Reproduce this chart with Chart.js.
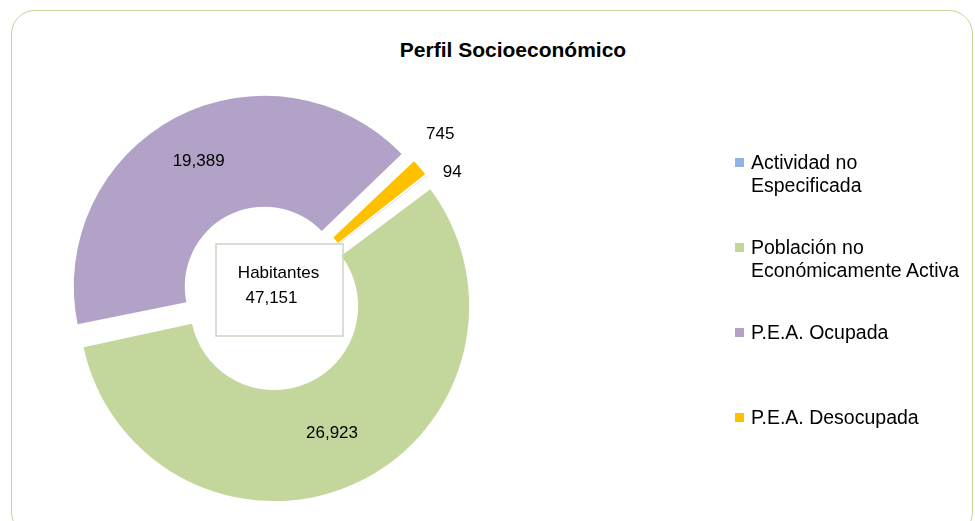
<!DOCTYPE html>
<html lang="es">
<head>
    <meta charset="UTF-8">
    <title>Perfil Socioeconómico</title>
    <script src="https://cdn.jsdelivr.net/npm/chart.js"></script>
    <style>
        body { margin: 0; font-family: "Liberation Sans", Arial, sans-serif; background: #fff; overflow: hidden; }
        .page { position: relative; width: 975px; height: 521px; overflow: hidden; }
        .frame { position: absolute; left: 11px; top: 10px; width: 960px; height: 524px;
                 border: 1.5px solid #c3d69b; border-radius: 24px; }
        .title { position: absolute; left: 0; width: 1026px; top: 38px; text-align: center;
                 font-weight: bold; font-size: 21px; color: #000; }
        .chart-box { position: absolute; left: 0; top: 0; width: 975px; height: 521px; }
        .legend-item { position: absolute; left: 735px; font-size: 19.5px; line-height: 23px; color: #000; }
        .legend-item .sw { position: absolute; left: 0; top: 7px; width: 9px; height: 9px; }
        .legend-item .txt { margin-left: 16px; white-space: nowrap; }
    </style>
</head>
<body>
<div class="page">
    <div class="frame"></div>
    <div class="title">Perfil Socioeconómico</div>
    <div class="chart-box"><canvas id="pieChart"></canvas></div>
    <div id="legend"></div>
</div>

<script>
    // data
    const categories = ['Actividad no Especificada', 'Población no Económicamente Activa', 'P.E.A. Ocupada', 'P.E.A. Desocupada'];
    const legendLines = [['Actividad no', 'Especificada'], ['Población no', 'Económicamente Activa'], ['P.E.A. Ocupada'], ['P.E.A. Desocupada']];
    const values = [94, 26923, 19389, 745];
    const colors = ['#8eb4e3', '#c3d69b', '#b3a2c7', '#ffc000'];
    const centerTitle = 'Habitantes';

    const total = values.reduce((a, b) => a + b, 0);
    const fmt = n => n.toLocaleString('en-US');

    // legend (html)
    const legendTops = [151, 236, 321, 406];
    const legendEl = document.getElementById('legend');
    legendLines.forEach((lines, i) => {
        const item = document.createElement('div');
        item.className = 'legend-item';
        item.style.top = legendTops[i] + 'px';
        item.innerHTML = '<span class="sw" style="background:' + colors[i] + '"></span><div class="txt">' + lines.join('<br>') + '</div>';
        legendEl.appendChild(item);
    });

    // labels on the slices + box in the hole
    const labelPlugin = {
        id: 'sliceLabels',
        afterDatasetsDraw(chart) {
            const ctx = chart.ctx;
            const meta = chart.getDatasetMeta(0);
            ctx.save();
            ctx.font = '17px "Liberation Sans", Arial, sans-serif';
            ctx.fillStyle = '#000';
            ctx.textAlign = 'center';
            ctx.textBaseline = 'middle';
            const nudge = { 0: [4, 13], 3: [0, -16] };
            meta.data.forEach((arc, i) => {
                const p = arc.getProps(['x', 'y', 'startAngle', 'endAngle', 'innerRadius', 'outerRadius'], true);
                const mid = (p.startAngle + p.endAngle) / 2;
                const shift = (arc.options.offset || 0) / 4;
                let r, dx = 0, dy = 0;
                if (values[i] / total > 0.05) {
                    r = (p.innerRadius + p.outerRadius) / 2 + 2 * shift;
                } else {
                    r = p.outerRadius + 40;
                    [dx, dy] = nudge[i] || [0, 0];
                }
                ctx.fillText(fmt(values[i]), p.x + Math.cos(mid) * r + dx, p.y + Math.sin(mid) * r + dy);
            });

            const a = meta.data[0];
            const cx = a.x, cy = a.y;
            ctx.strokeStyle = '#cdd4c4';
            ctx.lineWidth = 1.5;
            ctx.strokeRect(cx - 54, cy - 53, 127, 92);
            ctx.fillText(centerTitle, cx + 8.5, cy - 24);
            ctx.fillText(fmt(total), cx + 1.5, cy + 1);
            ctx.restore();
        }
    };

    const ctx = document.getElementById('pieChart').getContext('2d');
    const myChart = new Chart(ctx, {
        type: 'doughnut',
        data: {
            labels: categories,
            datasets: [{
                data: values,
                backgroundColor: colors,
                borderWidth: 0,
                offset: [27, 40, 48, 27]
            }]
        },
        options: {
            responsive: true,
            maintainAspectRatio: false,
            animation: false,
            rotation: 52,
            cutout: '40%',
            layout: { padding: { left: 61, right: 496, top: 88, bottom: 15 } },
            plugins: {
                legend: { display: false },
                tooltip: { enabled: false }
            }
        },
        plugins: [labelPlugin]
    });
</script>
</body>
</html>
